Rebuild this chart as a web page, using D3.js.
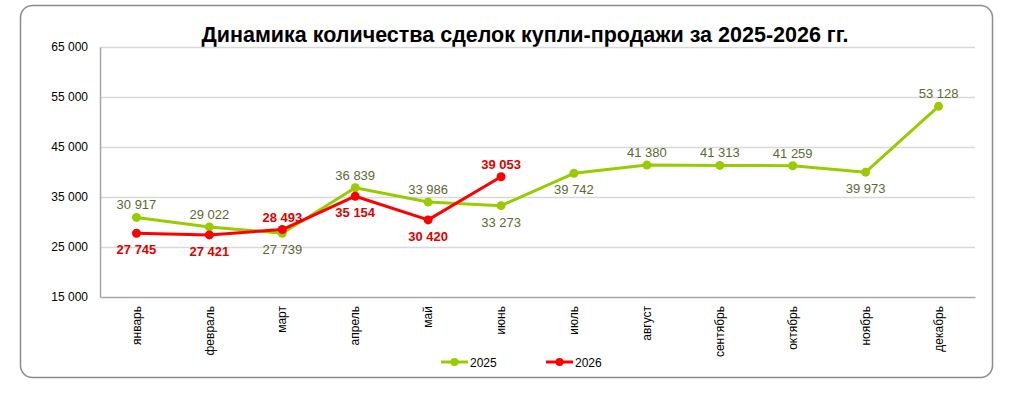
<!DOCTYPE html>
<html>
<head>
<meta charset="utf-8">
<script src="https://cdn.jsdelivr.net/npm/d3@7"></script>
<style>
  body { margin: 0; background: #fff; font-family: "Liberation Sans", Arial, sans-serif; }
</style>
</head>
<body>
<div id="chart"></div>
<script>
// data
var months = ["январь", "февраль", "март", "апрель", "май", "июнь",
              "июль", "август", "сентябрь", "октябрь", "ноябрь", "декабрь"];
var values2025 = [30917, 29022, 27739, 36839, 33986, 33273, 39742, 41380, 41313, 41259, 39973, 53128];
var values2026 = [27745, 27421, 28493, 35154, 30420, 39053];
// label side: 1 = above, -1 = below
var side2025 = [1, 1, -1, 1, 1, -1, -1, 1, 1, 1, -1, 1];
var side2026 = [-1, -1, 1, -1, -1, 1];
var yTicks = [15000, 25000, 35000, 45000, 55000, 65000];
var seriesNames = ["2025", "2026"];

var W = 1024, H = 399;
var margin = {top: 47, left: 100, right: 49, bottom: 102};
var w = W - margin.left - margin.right;
var h = H - margin.top - margin.bottom;

var fmt = function(d) { return d3.format(",")(d).replace(/,/g, " "); };

var svg = d3.select("#chart").append("svg")
  .attr("width", W).attr("height", H);

// outer frame
svg.append("rect")
  .attr("x", 20.5).attr("y", 5.5)
  .attr("width", 972).attr("height", 372)
  .attr("rx", 12).attr("ry", 12)
  .attr("fill", "#fff")
  .attr("stroke", "#8c8c8c")
  .attr("stroke-width", 1.5);

svg.append("text")
  .attr("x", 525).attr("y", 42)
  .attr("text-anchor", "middle")
  .attr("font-size", "21.5px")
  .attr("font-weight", "bold")
  .attr("fill", "#000")
  .text("Динамика количества сделок купли-продажи за 2025-2026 гг.");

var g = svg.append("g")
  .attr("transform", "translate(" + margin.left + "," + margin.top + ")");

var x = d3.scaleBand().domain(months).range([0, w]);
var y = d3.scaleLinear().domain([15000, 65000]).range([h, 0]);

// gridlines
g.append("g")
  .selectAll("line")
  .data(yTicks.slice(1))
  .enter().append("line")
  .attr("x1", 0).attr("x2", w)
  .attr("y1", function(d) { return Math.round(y(d)) + 0.5; })
  .attr("y2", function(d) { return Math.round(y(d)) + 0.5; })
  .attr("stroke", "#d9d9d9")
  .attr("stroke-width", 1.5);

// y axis
var yAxis = d3.axisLeft(y).tickValues(yTicks).tickSize(0).tickPadding(12).tickFormat(fmt);
var ya = g.append("g").call(yAxis);
ya.select(".domain").attr("stroke", "#a6a6a6").attr("stroke-width", 1.5);
ya.selectAll("text").attr("font-size", "12px").attr("fill", "#000")
  .attr("font-family", "Liberation Sans, Arial, sans-serif");

// x axis
var xAxis = d3.axisBottom(x).tickSize(0).tickPadding(0);
var xa = g.append("g").attr("transform", "translate(0," + h + ")").call(xAxis);
xa.select(".domain").attr("stroke", "#a6a6a6").attr("stroke-width", 1.5);
xa.selectAll("text")
  .attr("font-size", "12px").attr("fill", "#000")
  .attr("font-family", "Liberation Sans, Arial, sans-serif")
  .attr("transform", "rotate(-90)")
  .attr("text-anchor", "end")
  .attr("dy", "0.35em")
  .attr("x", -9).attr("y", 0);

var cx = function(d, i) { return x(months[i]) + x.bandwidth() / 2; };
var line = d3.line().x(cx).y(function(d) { return y(d); });

function drawSeries(vals, sides, color, labelColor, bold) {
  g.append("path").datum(vals)
    .attr("d", line)
    .attr("fill", "none")
    .attr("stroke", color)
    .attr("stroke-width", 3)
    .attr("stroke-linejoin", "round");
  g.selectAll(null).data(vals).enter().append("circle")
    .attr("cx", cx).attr("cy", function(d) { return y(d); })
    .attr("r", 4.5).attr("fill", color);
  g.selectAll(null).data(vals).enter().append("text")
    .attr("x", cx)
    .attr("y", function(d, i) { return y(d) + (sides[i] > 0 ? -8 : 21); })
    .attr("text-anchor", "middle")
    .attr("font-size", "13px")
    .attr("font-weight", bold ? "bold" : "normal")
    .attr("fill", labelColor)
    .text(fmt);
}

drawSeries(values2025, side2025, "#99cc00", "#5b6a32", false);
drawSeries(values2026, side2026, "#ff0000", "#e00000", true);

// legend
var legend = svg.append("g").attr("transform", "translate(441,362)");
var legColors = ["#99cc00", "#ff0000"];
seriesNames.forEach(function(n, i) {
  var lg = legend.append("g").attr("transform", "translate(" + (i * 105) + ",0)");
  lg.append("line").attr("x1", 0).attr("x2", 27).attr("y1", 0).attr("y2", 0)
    .attr("stroke", legColors[i]).attr("stroke-width", 3);
  lg.append("circle").attr("cx", 13.5).attr("cy", 0).attr("r", 4).attr("fill", legColors[i]);
  lg.append("text").attr("x", 29).attr("y", 4.5)
    .attr("font-size", "12px").attr("fill", "#000").text(n);
});
</script>
</body>
</html>
